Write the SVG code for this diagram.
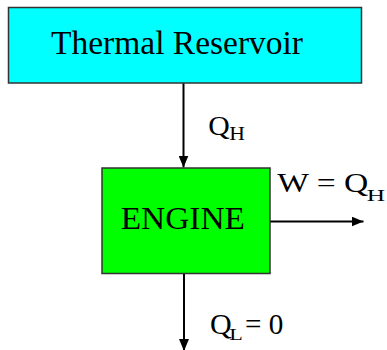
<svg xmlns="http://www.w3.org/2000/svg" width="387" height="350" viewBox="0 0 387 350">
<style>
.t{font-family:"Liberation Serif","Times New Roman",serif;fill:#000}
.box{stroke:#333;stroke-width:1.5}
.ln{stroke:#000;stroke-width:2;fill:none}
</style>
<defs>
<marker id="ah" viewBox="0 0 12 10" refX="12" refY="5" markerWidth="12" markerHeight="10" markerUnits="userSpaceOnUse" orient="auto">
<path d="M0,0 L12,5 L0,10 Z" fill="#000"/>
</marker>
</defs>
<rect width="387" height="350" fill="#fff"/>
<g id="connectors">
<line class="ln" x1="183.5" y1="83" x2="183.5" y2="167.5" marker-end="url(#ah)"/>
<line class="ln" x1="270" y1="221.5" x2="363.5" y2="221.5" marker-end="url(#ah)"/>
<line class="ln" x1="184" y1="274" x2="184" y2="351" marker-end="url(#ah)"/>
</g>
<g id="reservoir">
<rect class="box" x="8.5" y="7.5" width="353" height="75.5" fill="#00FFFF"/>
<text class="t" x="51" y="54.3" font-size="33" textLength="252" lengthAdjust="spacingAndGlyphs">Thermal Reservoir</text>
</g>
<g id="engine">
<rect class="box" x="102" y="168" width="168" height="105.5" fill="#00FF00"/>
<text class="t" x="120.7" y="229.3" font-size="32" textLength="124.3" lengthAdjust="spacingAndGlyphs">ENGINE</text>
</g>
<g id="labels">
<text class="t" x="208.3" y="134.5" font-size="26.5" textLength="21.5" lengthAdjust="spacingAndGlyphs">Q</text>
<text class="t" x="229.3" y="140" font-size="18.5" textLength="15.7" lengthAdjust="spacingAndGlyphs">H</text>
<text class="t" x="277.3" y="191.7" font-size="28" textLength="91" lengthAdjust="spacingAndGlyphs">W = Q</text>
<text class="t" x="366.7" y="200.7" font-size="17" textLength="18.3" lengthAdjust="spacingAndGlyphs">H</text>
<text class="t" x="210" y="334.3" font-size="28.5" textLength="21.7" lengthAdjust="spacingAndGlyphs">Q</text>
<text class="t" x="229.3" y="340" font-size="16.5" textLength="13.5" lengthAdjust="spacingAndGlyphs">L</text>
<text class="t" x="245" y="334.3" font-size="28.5" textLength="38.3" lengthAdjust="spacingAndGlyphs">= 0</text>
</g>
</svg>
